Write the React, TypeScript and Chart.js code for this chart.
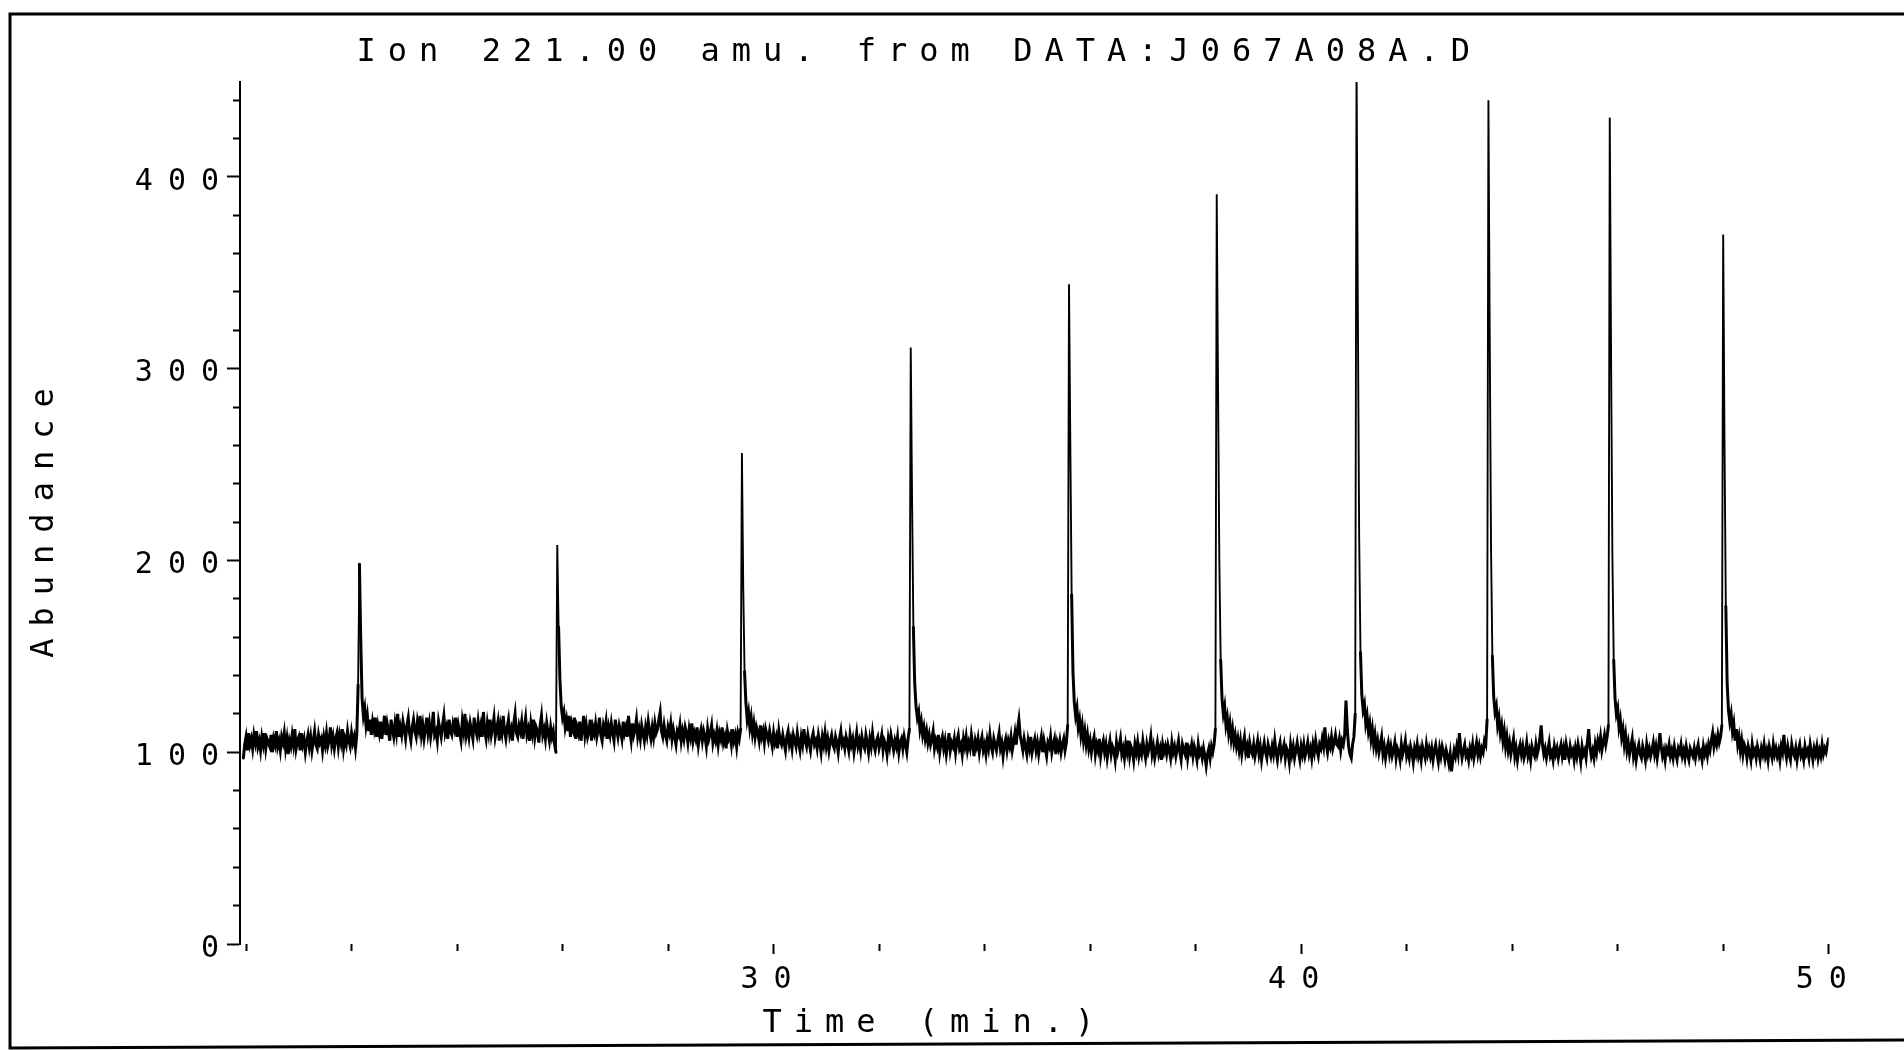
import React, { useEffect, useRef } from 'react';
import { Chart, registerables } from 'chart.js';

Chart.register(...registerables);

// ---------- text ----------
const CHART_TITLE = 'Ion 221.00 amu. from DATA:J067A08A.D';
const X_TITLE = 'Time (min.)';
const Y_TITLE = 'Abundance';

// ---------- sampling of the trace ----------
const timeStart = 19.95; // min, first scan
const timeStep = 0.025; // min between scans

// abundance, 19.950 - 22.425 min (peak at 22.15)
const traceFrom19_95 = [
  97, 104, 108, 101, 110, 104, 107, 102, 109, 105,
  111, 103, 106, 101, 108, 104, 110, 102, 107, 105,
  103, 109, 100, 107, 104, 111, 103, 106, 101, 108,
  105, 110, 102, 107, 99, 106, 103, 109, 104, 112,
  102, 106, 108, 101, 110, 104, 107, 100, 105, 109,
  103, 108, 101, 106, 111, 104, 102, 109, 105, 107,
  101, 108, 104, 110, 103, 106, 113, 104, 108, 102,
  107, 110, 103, 109, 105, 112, 102, 107, 104, 111,
  106, 103, 110, 105, 108, 102, 109, 135, 198, 158,
  128, 119, 123, 114, 119, 111, 117, 109, 116, 112,
];
// 22.450 - 24.925 min
const traceFrom22_45 = [
  118, 108, 114, 110, 116, 107, 113, 119, 109, 115,
  111, 106, 117, 112, 108, 115, 110, 120, 108, 113,
  109, 116, 112, 107, 114, 118, 110, 106, 113, 117,
  111, 108, 116, 112, 119, 109, 114, 107, 112, 118,
  110, 115, 108, 113, 121, 109, 111, 106, 116, 112,
  108, 114, 119, 110, 113, 107, 117, 111, 109, 115,
  112, 118, 108, 114, 110, 106, 116, 111, 120, 109,
  113, 108, 115, 111, 107, 118, 112, 109, 116, 110,
  114, 108, 121, 111, 107, 115, 110, 117, 109, 113,
  118, 108, 112, 116, 106, 114, 110, 119, 111, 107,
];
// 24.950 - 27.425 min (peak at 25.90)
const traceFrom24_95 = [
  113, 117, 109, 112, 106, 115, 120, 110, 108, 114,
  111, 116, 107, 113, 118, 109, 112, 106, 115, 110,
  117, 108, 113, 111, 105, 114, 119, 109, 112, 107,
  115, 110, 106, 113, 108, 111, 104, 100, 208, 165,
  138, 124, 118, 121, 113, 117, 111, 119, 108, 115,
  112, 118, 107, 113, 110, 116, 106, 112, 119, 109,
  114, 108, 111, 117, 106, 113, 110, 115, 108, 112,
  118, 109, 106, 114, 111, 116, 107, 113, 109, 115,
  110, 106, 117, 112, 108, 114, 111, 107, 116, 110,
  113, 108, 119, 111, 106, 115, 109, 112, 117, 108,
];
// 27.450 - 29.925 min (peak at 29.40)
const traceFrom27_45 = [
  112, 107, 114, 110, 106, 113, 109, 116, 111, 107,
  113, 108, 115, 110, 112, 117, 121, 111, 108, 114,
  109, 106, 113, 110, 115, 107, 112, 108, 104, 111,
  109, 114, 106, 111, 107, 113, 110, 105, 112, 108,
  115, 106, 110, 107, 113, 104, 109, 112, 106, 111,
  108, 103, 112, 107, 110, 114, 105, 109, 106, 111,
  104, 110, 107, 113, 105, 108, 102, 111, 107, 109,
  104, 112, 106, 109, 103, 110, 107, 112, 256, 186,
  142, 126, 117, 121, 113, 118, 110, 115, 108, 113,
  110, 106, 114, 108, 111, 105, 112, 109, 106, 111,
];
// 29.950 - 32.425 min
const traceFrom29_95 = [
  107, 103, 110, 105, 108, 102, 111, 106, 104, 109,
  105, 101, 108, 111, 104, 107, 102, 109, 106, 103,
  110, 105, 101, 108, 104, 112, 106, 103, 109, 105,
  101, 107, 110, 104, 106, 102, 109, 105, 100, 108,
  104, 110, 103, 107, 101, 106, 109, 104, 102, 108,
  105, 100, 107, 111, 104, 106, 102, 108, 105, 101,
  109, 104, 107, 100, 105, 110, 103, 106, 101, 108,
  104, 102, 109, 105, 100, 107, 103, 110, 104, 101,
  106, 108, 102, 105, 109, 101, 106, 104, 99, 107,
  103, 109, 105, 101, 106, 103, 108, 100, 105, 107,
];
// 32.450 - 34.925 min (peak at 32.60)
const traceFrom32_45 = [
  102, 108, 104, 100, 107, 112, 311, 232, 165, 136,
  124, 118, 121, 112, 116, 109, 113, 107, 111, 105,
  109, 104, 107, 111, 102, 106, 103, 109, 100, 105,
  108, 102, 106, 99, 104, 110, 101, 105, 103, 107,
  100, 106, 109, 102, 104, 99, 107, 103, 108, 101,
  105, 102, 109, 104, 98, 106, 103, 107, 100, 105,
  108, 101, 104, 99, 106, 102, 109, 103, 100, 107,
  104, 101, 106, 110, 102, 105, 98, 104, 107, 101,
  106, 103, 108, 101, 105, 110, 104, 112, 117, 109,
  105, 101, 107, 103, 99, 106, 102, 108, 100, 104,
];
// 34.950 - 37.425 min (peak at 35.60)
const traceFrom34_95 = [
  107, 101, 105, 99, 104, 108, 100, 106, 102, 98,
  105, 103, 108, 100, 104, 107, 99, 105, 102, 106,
  100, 104, 107, 101, 105, 114, 344, 260, 182, 142,
  126, 119, 123, 113, 117, 109, 114, 106, 111, 104,
  109, 102, 106, 100, 105, 108, 99, 104, 101, 107,
  98, 103, 106, 100, 104, 97, 102, 106, 99, 103,
  101, 96, 105, 100, 103, 107, 99, 102, 97, 104,
  100, 106, 98, 103, 101, 96, 104, 100, 105, 98,
  102, 99, 106, 101, 97, 104, 100, 103, 108, 99,
  103, 97, 101, 105, 99, 102, 96, 104, 100, 103,
];
// 37.450 - 39.925 min (peak at 38.40)
const traceFrom37_45 = [
  99, 104, 101, 97, 105, 100, 103, 98, 102, 106,
  100, 96, 104, 101, 99, 105, 97, 102, 100, 104,
  98, 103, 100, 96, 104, 99, 101, 97, 102, 98,
  93, 99, 102, 97, 103, 100, 104, 112, 391, 290,
  198, 148, 128, 120, 124, 114, 118, 110, 115, 107,
  112, 105, 109, 103, 107, 101, 106, 99, 104, 108,
  100, 103, 97, 105, 101, 99, 104, 98, 102, 106,
  99, 103, 96, 101, 105, 100, 97, 104, 101, 98,
  103, 99, 106, 100, 96, 102, 105, 98, 101, 104,
  97, 102, 100, 95, 104, 99, 103, 97, 101, 105,
];
// 39.950 - 42.425 min (small peak 40.85, peak at 41.05)
const traceFrom39_95 = [
  100, 96, 103, 99, 104, 98, 101, 105, 99, 102,
  97, 104, 100, 106, 101, 98, 104, 102, 107, 103,
  113, 104, 100, 106, 103, 108, 102, 105, 109, 104,
  103, 107, 101, 106, 104, 109, 127, 112, 103, 99,
  97, 104, 108, 120, 460, 330, 212, 152, 130, 122,
  125, 115, 119, 111, 115, 107, 112, 104, 109, 102,
  106, 100, 104, 108, 99, 103, 97, 102, 105, 99,
  103, 98, 101, 105, 97, 102, 100, 96, 104, 99,
  102, 106, 98, 101, 97, 103, 100, 95, 102, 99,
  104, 98, 101, 96, 103, 100, 97, 104, 99, 102,
];
// 42.450 - 44.925 min (peak at 43.55)
const traceFrom42_45 = [
  98, 102, 96, 101, 104, 99, 95, 102, 98, 103,
  100, 96, 101, 98, 94, 99, 90, 96, 101, 98,
  103, 99, 110, 102, 97, 101, 104, 98, 100, 96,
  102, 99, 104, 97, 101, 105, 99, 103, 98, 102,
  100, 106, 104, 117, 440, 315, 205, 150, 129, 121,
  124, 114, 118, 110, 114, 106, 111, 103, 108, 101,
  105, 99, 103, 107, 98, 102, 96, 101, 104, 99,
  103, 97, 100, 105, 98, 101, 96, 103, 100, 98,
  104, 99, 102, 107, 114, 104, 99, 102, 97, 101,
  105, 98, 100, 96, 103, 99, 102, 97, 101, 104,
];
// 44.950 - 47.425 min (peak at 45.85)
const traceFrom44_95 = [
  98, 102, 96, 104, 100, 97, 103, 99, 101, 96,
  102, 98, 104, 100, 95, 103, 99, 101, 97, 105,
  112, 103, 98, 101, 97, 104, 100, 106, 103, 108,
  101, 105, 109, 104, 108, 114, 431, 306, 202, 148,
  128, 120, 123, 113, 117, 108, 112, 104, 109, 101,
  105, 99, 103, 107, 98, 102, 96, 101, 104, 99,
  97, 103, 100, 96, 104, 99, 102, 98, 101, 105,
  99, 103, 97, 102, 110, 103, 98, 101, 96, 102,
  100, 104, 98, 101, 97, 103, 99, 96, 102, 100,
  104, 98, 101, 97, 103, 99, 96, 102, 100, 98,
];
// 47.450 - 50.000 min (peak at 48.00)
const traceFrom47_45 = [
  102, 97, 101, 104, 98, 100, 96, 103, 99, 102,
  98, 104, 101, 106, 110, 103, 107, 104, 109, 105,
  108, 114, 370, 262, 176, 136, 122, 116, 120, 111,
  115, 106, 112, 104, 108, 101, 106, 99, 104, 102,
  97, 103, 100, 96, 104, 99, 101, 97, 103, 100,
  96, 102, 99, 104, 98, 101, 96, 103, 100, 97,
  104, 99, 102, 98, 101, 96, 103, 100, 109, 101,
  97, 103, 99, 96, 104, 100, 98, 102, 96, 101,
  104, 98, 100, 96, 103, 99, 101, 97, 104, 100,
  96, 102, 99, 103, 97, 101, 98, 104, 99, 102,
  100, 104, 107,
];

// ---------- axes ----------
const xRange = [19.886, 50];
const yRange = [0, 449.5];
const xTicks = [20, 22, 24, 26, 28, 30, 32, 34, 36, 38, 40, 42, 44, 46, 48, 50];
const xLabeled = [30, 40, 50];
const yTicks = [0, 20, 40, 60, 80, 100, 120, 140, 160, 180, 200, 220, 240, 260, 280, 300, 320, 340, 360, 380, 400, 420, 440];
const yLabeled = [0, 100, 200, 300, 400];

const FONT = "'DejaVu Sans Mono', monospace";

const spacingPlugin = {
  id: 'letterSpacingWrap',
  beforeDraw(chart: any) {
    const ctx = chart.ctx;
    const wrap = (obj: any, name: string, spacing: string, dx: number, dy: number) => {
      if (!obj || obj['__wrapped_' + name]) return;
      const orig = obj[name];
      obj[name] = function (...args: any[]) {
        ctx.save();
        (ctx as any).letterSpacing = spacing;
        ctx.translate(dx, dy);
        orig.apply(this, args);
        ctx.restore();
      };
      obj['__wrapped_' + name] = true;
    };
    wrap(chart.scales.x, 'drawLabels', '15px', 0, 0);
    wrap(chart.scales.y, 'drawLabels', '15px', 0, 5);
    wrap(chart.scales.x, 'drawTitle', '12px', -100, 0);
    wrap(chart.scales.y, 'drawTitle', '12px', 0, 4);
    wrap(chart.titleBlock, 'draw', '12px', 0, 0);
  },
};

const framePlugin = {
  id: 'pageFrame',
  afterDraw(chart: any) {
    const c = chart.ctx;
    c.save();
    c.strokeStyle = '#000';
    c.lineWidth = 3;
    c.beginPath();
    c.moveTo(1904, 14);
    c.lineTo(10, 14);
    c.lineTo(10, 1048);
    c.lineTo(1904, 1040);
    c.stroke();
    c.restore();
  },
};

export default function App() {
  const ref = useRef<HTMLCanvasElement>(null);

  useEffect(() => {
    const canvas = ref.current;
    if (!canvas) return;
    const values = [
      ...traceFrom19_95,
      ...traceFrom22_45,
      ...traceFrom24_95,
      ...traceFrom27_45,
      ...traceFrom29_95,
      ...traceFrom32_45,
      ...traceFrom34_95,
      ...traceFrom37_45,
      ...traceFrom39_95,
      ...traceFrom42_45,
      ...traceFrom44_95,
      ...traceFrom47_45,
    ];
    const points = values.map((v, i) => ({ x: +(timeStart + i * timeStep).toFixed(3), y: v }));

    const chart = new Chart(canvas, {
      type: 'line',
      data: {
        datasets: [
          {
            data: points,
            borderColor: '#000',
            borderWidth: 3,
            borderCapStyle: 'round',
            borderJoinStyle: 'miter',
            pointRadius: 0,
            tension: 0,
            fill: false,
            segment: {
              borderWidth: (c: any) => (Math.abs(c.p1.parsed.y - c.p0.parsed.y) > 40 ? 1.9 : 3),
            },
          },
        ],
      },
      plugins: [spacingPlugin, framePlugin],
      options: {
        animation: false,
        responsive: false,
        devicePixelRatio: 1,
        events: [],
        layout: { padding: { left: 10, right: 75.3, top: 0, bottom: 0 } },
        plugins: {
          legend: { display: false },
          tooltip: { enabled: false },
          title: {
            display: true,
            text: CHART_TITLE,
            color: '#000',
            font: { family: FONT, size: 32, weight: 'normal' },
            padding: { top: 33, bottom: 10.6 },
          },
        },
        scales: {
          x: {
            type: 'linear',
            min: xRange[0],
            max: xRange[1],
            afterFit: (s: any) => {
              s.height = 106;
            },
            afterBuildTicks: (s: any) => {
              s.ticks = xTicks.map((v) => ({ value: v }));
            },
            grid: {
              display: true,
              drawOnChartArea: false,
              drawTicks: true,
              tickLength: 10,
              tickWidth: 2,
              tickColor: '#000',
              tickBorderDash: (c: any) => (c.tick && xLabeled.includes(c.tick.value) ? [] : [7, 30]),
            },
            border: { display: false },
            ticks: {
              autoSkip: false,
              maxRotation: 0,
              padding: 8.7,
              color: '#000',
              font: { family: FONT, size: 30 },
              callback: (v: any) => (xLabeled.includes(Number(v)) ? String(v) : ''),
            },
            title: {
              display: true,
              text: X_TITLE,
              color: '#000',
              font: { family: FONT, size: 32 },
              padding: { top: 0, bottom: 7.6 },
            },
          },
          y: {
            type: 'linear',
            min: yRange[0],
            max: yRange[1],
            afterFit: (s: any) => {
              s.width = 230;
            },
            afterBuildTicks: (s: any) => {
              s.ticks = yTicks.map((v) => ({ value: v }));
            },
            grid: {
              display: true,
              drawOnChartArea: false,
              drawTicks: true,
              tickLength: 13,
              tickWidth: 2,
              tickColor: '#000',
              tickBorderDash: (c: any) => (c.tick && yLabeled.includes(c.tick.value) ? [] : [0, 6, 7, 30]),
            },
            border: { display: true, color: '#000', width: 2 },
            ticks: {
              autoSkip: false,
              padding: -7,
              color: '#000',
              font: { family: FONT, size: 30 },
              callback: (v: any) => (yLabeled.includes(Number(v)) ? String(v) : ''),
            },
            title: {
              display: true,
              text: Y_TITLE,
              color: '#000',
              font: { family: FONT, size: 32 },
              padding: { top: 15.5, bottom: 0 },
            },
          },
        },
      },
    } as any);

    return () => chart.destroy();
  }, []);

  return (
    <div style={{ position: 'fixed', left: 0, top: 0, width: 1904, height: 1050, background: '#fff' }}>
      <canvas ref={ref} width={1904} height={1050} style={{ display: 'block', width: 1904, height: 1050 }} />
    </div>
  );
}
